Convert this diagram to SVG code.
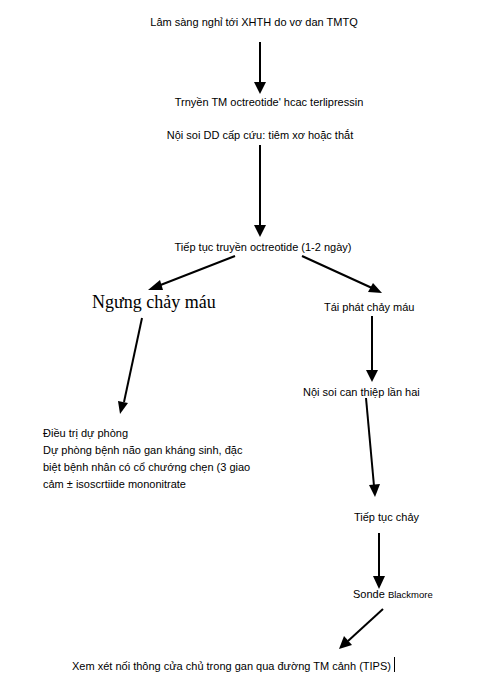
<svg xmlns="http://www.w3.org/2000/svg" width="489" height="687" viewBox="0 0 489 687">
<defs>
<style>
text{font-family:"Liberation Sans",Arial,sans-serif;font-size:11px;fill:#000}
.big{font-family:"Liberation Serif","Times New Roman",serif;font-size:18px}
.sm{font-size:9.5px}
.ln{stroke:#000;stroke-width:2;fill:none}
</style>
</defs>
<rect width="489" height="687" fill="#fff"/>
<g id="connectors">
<line class="ln" x1="260" y1="42" x2="260" y2="84"/>
<polygon points="254,82 266,82 260,94" fill="#000"/>
<line class="ln" x1="260" y1="145" x2="260" y2="226"/>
<polygon points="254,225 266,225 260,237" fill="#000"/>
<line class="ln" x1="235" y1="256" x2="158" y2="286"/>
<polygon points="148,290 160,280 163,290" fill="#000"/>
<line class="ln" x1="302" y1="256" x2="372" y2="288"/>
<polygon points="382,293 368,292 373,283" fill="#000"/>
<line class="ln" x1="142" y1="318" x2="124" y2="402"/>
<polygon points="120,414 118,401 128,403" fill="#000"/>
<line class="ln" x1="372" y1="316" x2="372" y2="372"/>
<polygon points="366,370 378,370 372,382" fill="#000"/>
<line class="ln" x1="366" y1="398" x2="374" y2="486"/>
<polygon points="369,485 380,484 375,497" fill="#000"/>
<line class="ln" x1="379" y1="533" x2="379" y2="578"/>
<polygon points="373,576 385,576 379,589" fill="#000"/>
<line class="ln" x1="383" y1="609" x2="348" y2="641"/>
<polygon points="339,649 344,636 352,645" fill="#000"/>
</g>
<g id="n1"><text x="254" y="26" text-anchor="middle">Lâm sàng nghỉ tới XHTH do vơ dan TMTQ</text></g>
<g id="n2"><text x="269" y="106" text-anchor="middle">Trnyền TM octreotide' hcac terlipressin</text></g>
<g id="n3"><text x="260" y="139" text-anchor="middle">Nội soi DD cấp cứu: tiêm xơ hoặc thắt</text></g>
<g id="n4"><text x="263" y="251" text-anchor="middle">Tiếp tục truyền octreotide (1-2 ngày)</text></g>
<g id="n5"><text class="big" x="92" y="308">Ngưng chảy máu</text></g>
<g id="n6"><text x="324" y="311">Tái phát chảy máu</text></g>
<g id="n7"><text x="303" y="396">Nội soi can thiệp lần hai</text></g>
<g id="n8">
<text x="43" y="437">Điều trị dự phòng</text>
<text x="43" y="454">Dự phòng bệnh não gan kháng sinh, đặc</text>
<text x="43" y="471">biệt bệnh nhân có cổ chướng chẹn (3 giao</text>
<text x="43" y="488">cảm ± isoscrtiide mononitrate</text>
</g>
<g id="n9"><text x="354" y="521">Tiếp tục chảy</text></g>
<g id="n10"><text x="353" y="598">Sonde <tspan class="sm">Blackmore</tspan></text></g>
<g id="n11"><text x="72" y="670">Xem xét nối thông cửa chủ trong gan qua đường TM cảnh (TIPS)</text>
<line x1="394.5" y1="657" x2="394.5" y2="672" stroke="#000" stroke-width="1"/></g>
</svg>
